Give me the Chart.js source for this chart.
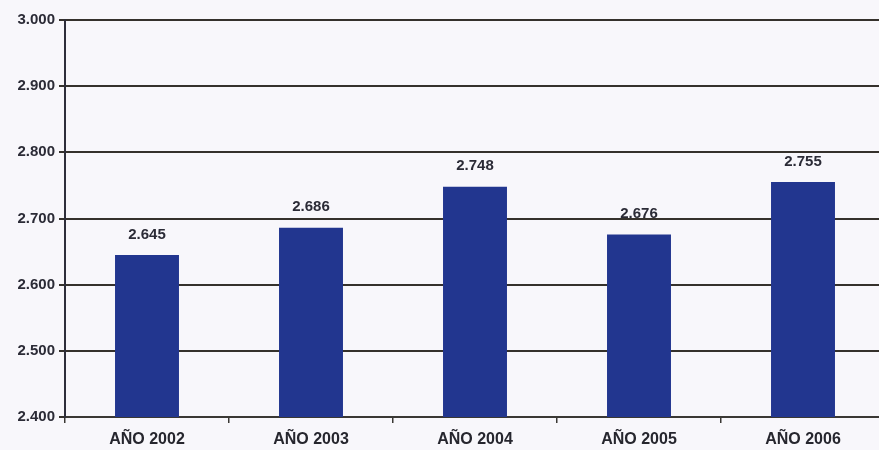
<!DOCTYPE html>
<html lang="es">
<head>
<meta charset="utf-8">
<title>Años 2002 - 2006</title>
<script src="https://cdn.jsdelivr.net/npm/chart.js@4/dist/chart.umd.min.js"></script>
<style>
    html, body { margin: 0; padding: 0; overflow: hidden; background: #f8f7fb; }
    #wrap { width: 890px; height: 450px; position: relative; }
</style>
</head>
<body>
<div id="wrap"><canvas id="grafico"></canvas></div>
<script>
// === Datos del grafico ===
const categorias = ['AÑO 2002', 'AÑO 2003', 'AÑO 2004', 'AÑO 2005', 'AÑO 2006'];
const valores = [2645, 2686, 2748, 2676, 2755];
const ejeMin = 2400;
const ejeMax = 3000;
const ejePaso = 100;

let graficoBarras;

// Formato con punto de miles (2.645)
function formatoMiles(v) {
    return Math.round(v).toString().replace(/\B(?=(\d{3})+(?!\d))/g, '.');
}

// --- Plugin: etiqueta de valor encima de cada barra ---
const etiquetasValor = {
    id: 'etiquetasValor',
    afterDatasetsDraw(chart) {
        const ctx = chart.ctx;
        const meta = chart.getDatasetMeta(0);
        ctx.save();
        ctx.font = 'bold 15px "Liberation Sans", Arial, sans-serif';
        ctx.fillStyle = '#2b2b36';
        ctx.textAlign = 'center';
        ctx.textBaseline = 'bottom';
        meta.data.forEach((bar, i) => {
            ctx.fillText(formatoMiles(valores[i]), bar.x, bar.y - 13);
        });
        ctx.restore();
    }
};

document.addEventListener('DOMContentLoaded', () => {
    const ctx = document.getElementById('grafico').getContext('2d');
    graficoBarras = new Chart(ctx, {
        type: 'bar',
        data: {
            labels: categorias,
            datasets: [{
                data: valores,
                backgroundColor: '#22368f',
                borderWidth: 0,
                barPercentage: 0.39,
                categoryPercentage: 1
            }]
        },
        options: {
            responsive: true,
            maintainAspectRatio: false,
            animation: false,
            layout: { padding: { top: 20, right: 5, bottom: 0, left: 0 } },
            plugins: {
                legend: { display: false },
                tooltip: { enabled: false }
            },
            scales: {
                x: {
                    grid: {
                        display: true,
                        offset: true,
                        drawOnChartArea: false,
                        drawTicks: true,
                        tickLength: 6,
                        color: '#3a3834',
                        lineWidth: 1.5
                    },
                    border: { color: '#3a3834', width: 2 },
                    ticks: {
                        color: '#26262e',
                        padding: 7,
                        font: { family: '"Liberation Sans", Arial, sans-serif', size: 16, weight: 'bold' }
                    },
                    afterFit: (escala) => { escala.height = 33; }
                },
                y: {
                    min: ejeMin,
                    max: ejeMax,
                    grid: {
                        color: '#35312c',
                        lineWidth: 2,
                        tickLength: 6
                    },
                    border: { color: '#2e2e3a', width: 2 },
                    ticks: {
                        stepSize: ejePaso,
                        color: '#2b2b36',
                        padding: 4,
                        font: { family: '"Liberation Sans", Arial, sans-serif', size: 15, weight: 'bold' },
                        callback: (v) => formatoMiles(v)
                    },
                    afterFit: (escala) => { escala.width = 65; }
                }
            }
        },
        plugins: [etiquetasValor]
    });
});
</script>
</body>
</html>
